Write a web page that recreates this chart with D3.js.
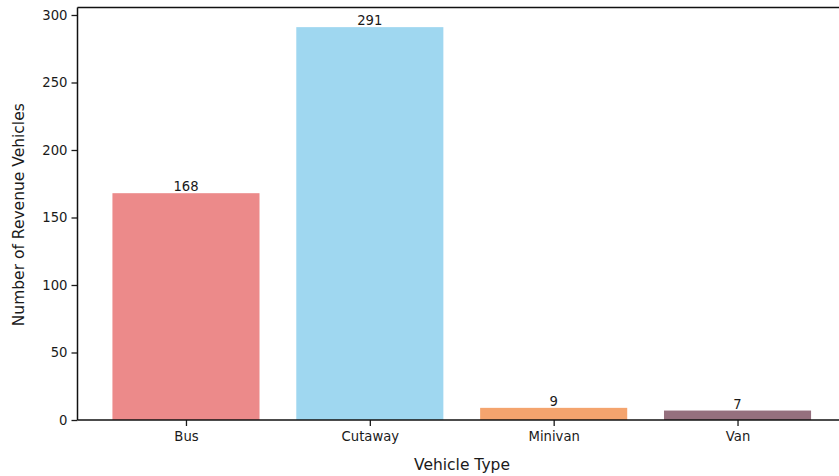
<!DOCTYPE html>
<html><head><meta charset="utf-8">
<script src="https://cdn.jsdelivr.net/npm/d3@7"></script>
<style>body{margin:0;background:#fff}svg{display:block}text{font-family:"DejaVu Sans",sans-serif;fill:#1a1a1a}</style>
</head><body><svg id="c" width="839" height="476"></svg>
<script>
const categories = ["Bus", "Cutaway", "Minivan", "Van"];
const values = [168, 291, 9, 7];
const colors = ["#ec8a8a", "#9fd7f0", "#f4a46e", "#95707e"];
const yTicks = [0, 50, 100, 150, 200, 250, 300];

(function () {
const svg = d3.select("#c");
const mLeft = 77.5, mTop = 7.5, mBottom = 420, mRight = 846;
const n = categories.length;
const x = d3.scaleLinear().domain([-0.59, n - 1 + 0.59]).range([mLeft, mRight]);
const y = d3.scaleLinear().domain([0, d3.max(values) * 1.05]).range([mBottom, mTop]);
const bw = x(0.4) - x(-0.4);

svg.selectAll("rect.bar").data(values).join("rect")
  .attr("class", "bar")
  .attr("x", (d, i) => x(i) - bw / 2)
  .attr("width", bw)
  .attr("y", d => y(d))
  .attr("height", d => y(0) - y(d))
  .attr("fill", (d, i) => colors[i]);

svg.selectAll("text.val").data(values).join("text")
  .attr("class", "val")
  .attr("x", (d, i) => x(i))
  .attr("y", d => y(d) - 2)
  .attr("text-anchor", "middle")
  .attr("font-size", 13.2)
  .text(d => d);

const yAxis = svg.append("g").attr("transform", `translate(${mLeft},0)`)
  .call(d3.axisLeft(y).tickValues(yTicks).tickSize(6).tickPadding(4));
yAxis.select(".domain").remove();
yAxis.selectAll("text").attr("font-size", 13.2).attr("fill", "#1a1a1a").style("font-family", "DejaVu Sans");
yAxis.selectAll("line").attr("stroke", "#1a1a1a").attr("stroke-width", 1.3);

const xAxis = svg.append("g").attr("transform", `translate(0,${mBottom})`)
  .call(d3.axisBottom(x).tickValues(d3.range(n)).tickFormat(i => categories[i]).tickSize(6).tickPadding(6));
xAxis.select(".domain").remove();
xAxis.selectAll("text").attr("font-size", 13.2).attr("fill", "#1a1a1a").style("font-family", "DejaVu Sans");
xAxis.selectAll("line").attr("stroke", "#1a1a1a").attr("stroke-width", 1.3);

svg.append("line").attr("x1", mLeft).attr("x2", mLeft).attr("y1", mTop).attr("y2", mBottom).attr("stroke", "#111").attr("stroke-width", 1.5);
svg.append("line").attr("x1", mLeft).attr("x2", 839).attr("y1", mBottom).attr("y2", mBottom).attr("stroke", "#111").attr("stroke-width", 1.5);
svg.append("line").attr("x1", mLeft).attr("x2", 839).attr("y1", mTop).attr("y2", mTop).attr("stroke", "#111").attr("stroke-width", 1.5);

svg.append("text").attr("x", 462).attr("y", 469.5).attr("text-anchor", "middle").attr("font-size", 15.5).text("Vehicle Type");
svg.append("text").attr("transform", `translate(24,${(mTop + mBottom) / 2 + 1}) rotate(-90)`).attr("text-anchor", "middle").attr("font-size", 15.5).text("Number of Revenue Vehicles");
})();
</script></body></html>
